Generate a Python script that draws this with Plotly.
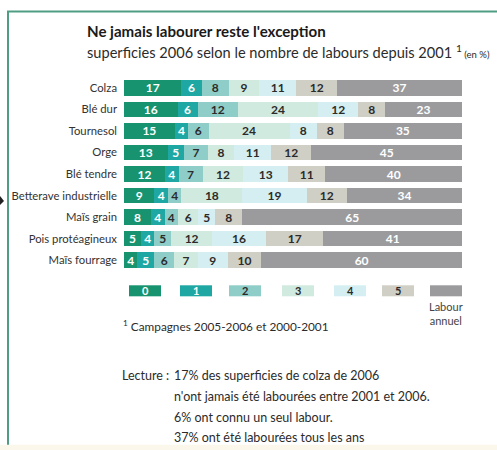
import plotly.graph_objects as go

# Crops, top to bottom
crops = ["Colza", "Blé dur", "Tournesol", "Orge", "Blé tendre",
         "Betterave industrielle", "Maïs grain", "Pois protéagineux", "Maïs fourrage"]

# Share of 2006 area (%) by number of ploughings since 2001
labours_0 = [17, 16, 15, 13, 12, 9, 8, 5, 4]
labours_1 = [6, 6, 4, 5, 4, 4, 4, 4, 5]
labours_2 = [8, 12, 6, 7, 7, 4, 4, 5, 6]
labours_3 = [9, 24, 24, 8, 12, 18, 6, 12, 7]
labours_4 = [11, 12, 8, 11, 13, 19, 5, 16, 9]
labours_5 = [12, 8, 8, 12, 11, 12, 8, 17, 10]
labour_annuel = [37, 23, 35, 45, 40, 34, 65, 41, 60]
totals = [100, 100, 100, 100, 100, 100, 100, 100, 100]

series_names = ["0", "1", "2", "3", "4", "5", "Labour annuel"]
series_values = [labours_0, labours_1, labours_2, labours_3, labours_4, labours_5, labour_annuel]
colors = ["#17946f", "#1fa8a3", "#8fcdc9", "#d0eadf", "#d4eef1", "#cfcfc6", "#9b9b9e"]
text_colors = ["white", "white", "#2b2b2b", "#2b2b2b", "#2b2b2b", "#2b2b2b", "white"]

FONT = "Lato, Roboto, sans-serif"
W, H = 497, 450
# plot area in pixels
PX0, PX1 = 124, 462
PY0, PY1 = 77.25, 270.75


def xp(px):
    return (px - PX0) / (PX1 - PX0)


def yp(py):
    return (PY1 - py) / (PY1 - PY0)


fig = go.Figure()
for name, vals, col, tcol in zip(series_names, series_values, colors, text_colors):
    fig.add_trace(go.Bar(
        y=crops, x=vals, name=name, orientation="h",
        marker=dict(color=col, line=dict(width=0)),
        text=[str(v) for v in vals], textposition="inside", textangle=0,
        insidetextanchor="middle", constraintext="none",
        textfont=dict(family=FONT, size=12, color=tcol, weight="bold"),
        hoverinfo="skip",
    ))

# Row totals at the right
fig.add_trace(go.Scatter(
    y=crops, x=[105.3] * len(crops), mode="text", text=[str(t) for t in totals],
    textfont=dict(family=FONT, size=11.5, color="#333333"),
    cliponaxis=False, showlegend=False, hoverinfo="skip",
))

shapes = []
annotations = []

# Frame
shapes.append(dict(type="line", xref="paper", yref="paper",
                   x0=xp(8), x1=xp(8), y0=yp(12), y1=yp(444),
                   line=dict(color="#4f9d84", width=2)))
shapes.append(dict(type="line", xref="paper", yref="paper",
                   x0=xp(7), x1=xp(497), y0=yp(12), y1=yp(12),
                   line=dict(color="#4f9d84", width=2)))
shapes.append(dict(type="rect", xref="paper", yref="paper",
                   x0=xp(0), x1=xp(497), y0=yp(444), y1=yp(450),
                   fillcolor="#fbf7ea", line=dict(width=0), layer="below"))
# arrow tip at left edge
shapes.append(dict(type="path", xref="paper", yref="paper",
                   path=f"M {xp(0)} {yp(196)} L {xp(4)} {yp(201)} L {xp(0)} {yp(205)} Z",
                   fillcolor="#222222", line=dict(width=0)))


def note(px, py, text, size, color="#2b2b2b", xanchor="left", yanchor="middle", align="left"):
    annotations.append(dict(x=xp(px), y=yp(py), xref="paper", yref="paper",
                            text=text, showarrow=False, xanchor=xanchor, yanchor=yanchor,
                            align=align, font=dict(family=FONT, size=size, color=color)))


# Titles
note(85, 31, "<b>Ne jamais labourer reste l'exception</b>", 15.1, "#1a1a1a")
note(85, 52, "superficies 2006 selon le nombre de labours depuis 2001 "
             "<sup>1</sup><span style='font-size:9.5px'> (en %)</span>", 14.6)

# Legend boxes
box_left = [129, 180, 229, 282, 334, 382, 430]
for name, col, tcol, bx in zip(series_names, colors, text_colors, box_left):
    shapes.append(dict(type="rect", xref="paper", yref="paper",
                       x0=xp(bx), x1=xp(bx + 32), y0=yp(285), y1=yp(296),
                       fillcolor=col, line=dict(width=0)))
    if name.isdigit():
        note(bx + 16, 290.5, f"<b>{name}</b>", 11, tcol, xanchor="center")
    else:
        note(bx + 16, 298, "Labour<br>annuel", 11, "#444444",
             xanchor="center", yanchor="top", align="center")

# Footnote
note(121, 326, "<sup>1</sup> Campagnes 2005-2006 et 2000-2001", 11.8)

# Reading note
note(120, 375, "Lecture :", 12.5)
lecture_lines = ["17% des superficies de colza de 2006",
                 "n'ont jamais été labourées entre 2001 et 2006.",
                 "6% ont connu un seul labour.",
                 "37% ont été labourées tous les ans"]
for i, line in enumerate(lecture_lines):
    note(172, 375 + i * 20.7, line, 12.5)

fig.update_layout(
    width=W, height=H,
    margin=dict(l=PX0, r=W - PX1, t=PY0, b=H - PY1, autoexpand=False),
    barmode="stack", barnorm="percent", bargap=0.28,
    paper_bgcolor="white", plot_bgcolor="white",
    showlegend=False,
    uniformtext=dict(minsize=11, mode="show"),
    xaxis=dict(range=[0, 100], visible=False, fixedrange=True),
    yaxis=dict(autorange="reversed", showgrid=False, zeroline=False, showline=False,
               ticks="", ticklabelstandoff=6,
               tickfont=dict(family=FONT, size=11.3, color="#333333")),
    shapes=shapes, annotations=annotations,
)

fig.write_html("out.html")
